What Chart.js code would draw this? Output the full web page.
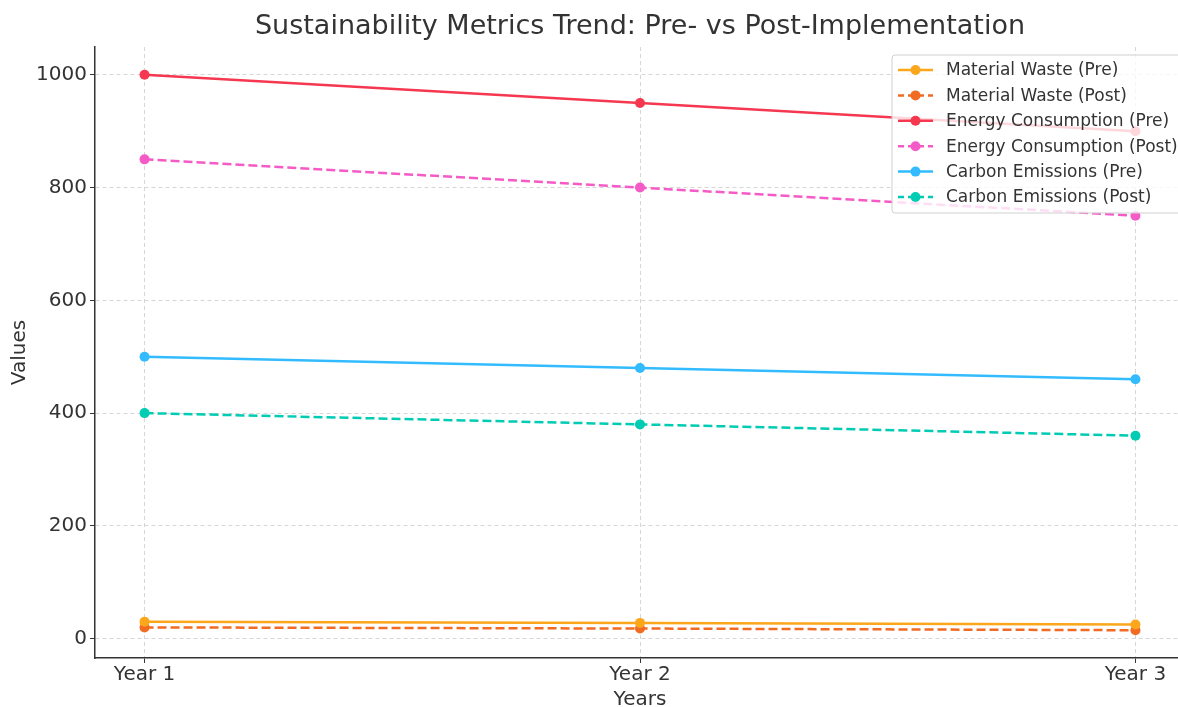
<!DOCTYPE html>
<html>
<head>
<meta charset="utf-8">
<script src="https://cdn.jsdelivr.net/npm/chart.js@4.4.0/dist/chart.umd.min.js"></script>
<style>
html,body{margin:0;padding:0;background:#fff;overflow:hidden;}
#wrap{width:1178px;height:707px;position:relative;overflow:hidden;}
#c{position:absolute;left:0;top:0;}
</style>
</head>
<body>
<div id="wrap"><canvas id="c" width="1190" height="707"></canvas></div>
<script>
const years = ['Year 1', 'Year 2', 'Year 3'];
const materialWastePre = [30, 28, 25];
const materialWastePost = [20, 18, 15];
const energyPre = [1000, 950, 900];
const energyPost = [850, 800, 750];
const carbonPre = [500, 480, 460];
const carbonPost = [400, 380, 360];
const yTicks = [0, 200, 400, 600, 800, 1000];

const DASH = [9, 4];
const seriesDefs = [
  {label: 'Material Waste (Pre)', data: materialWastePre, color: '#FBA61B', dash: []},
  {label: 'Material Waste (Post)', data: materialWastePost, color: '#F26B22', dash: DASH},
  {label: 'Energy Consumption (Pre)', data: energyPre, color: '#F5384F', dash: []},
  {label: 'Energy Consumption (Post)', data: energyPost, color: '#F55BC7', dash: DASH},
  {label: 'Carbon Emissions (Pre)', data: carbonPre, color: '#33BBFF', dash: []},
  {label: 'Carbon Emissions (Post)', data: carbonPost, color: '#00CCB4', dash: DASH}
];

const datasets = seriesDefs.map(s => ({
  label: s.label,
  data: s.data.map((v, i) => ({x: i, y: v})),
  borderColor: s.color,
  backgroundColor: s.color,
  borderWidth: 2.5,
  borderDash: s.dash,
  pointRadius: 5,
  pointHoverRadius: 5,
  pointBorderWidth: 0,
  tension: 0,
  fill: false
}));

const FONT = "'DejaVu Sans', sans-serif";

const legendPlugin = {
  id: 'insideLegend',
  afterDatasetsDraw(chart) {
    const ctx = chart.ctx;
    const x0 = 892, y0 = 55, w = 300, h = 158;
    ctx.save();
    ctx.beginPath();
    const r = 3;
    ctx.moveTo(x0 + r, y0);
    ctx.lineTo(x0 + w, y0);
    ctx.lineTo(x0 + w, y0 + h);
    ctx.lineTo(x0 + r, y0 + h);
    ctx.arcTo(x0, y0 + h, x0, y0 + h - r, r);
    ctx.lineTo(x0, y0 + r);
    ctx.arcTo(x0, y0, x0 + r, y0, r);
    ctx.closePath();
    ctx.fillStyle = 'rgba(255,255,255,0.8)';
    ctx.fill();
    ctx.strokeStyle = '#d0d0d0';
    ctx.lineWidth = 1;
    ctx.stroke();
    ctx.font = '17px ' + FONT;
    ctx.textBaseline = 'middle';
    ctx.textAlign = 'left';
    seriesDefs.forEach((s, i) => {
      const y = 70 + i * 25.4;
      ctx.strokeStyle = s.color;
      ctx.lineWidth = 2.5;
      ctx.setLineDash(s.dash.length ? [6, 4] : []);
      ctx.beginPath();
      ctx.moveTo(898, y);
      ctx.lineTo(933, y);
      ctx.stroke();
      ctx.setLineDash([]);
      ctx.fillStyle = s.color;
      ctx.beginPath();
      ctx.arc(915.5, y, 5, 0, Math.PI * 2);
      ctx.fill();
      ctx.fillStyle = '#333333';
      ctx.fillText(s.label, 946, y + 1);
    });
    ctx.restore();
  }
};

new Chart(document.getElementById('c'), {
  type: 'line',
  data: {datasets},
  plugins: [legendPlugin],
  options: {
    responsive: false,
    animation: false,
    layout: {padding: {left: 0, right: 0, top: 0, bottom: 0}},
    plugins: {
      legend: {display: false},
      tooltip: {enabled: false},
      title: {
        display: true,
        fullSize: false,
        text: 'Sustainability Metrics Trend: Pre- vs Post-Implementation',
        color: '#333333',
        font: {family: FONT, size: 27, weight: 'normal'},
        padding: {top: 11, bottom: 3.6}
      }
    },
    scales: {
      x: {
        type: 'linear',
        min: -0.1,
        max: 2.1,
        afterBuildTicks(scale) { scale.ticks = years.map((_, i) => ({value: i})); },
        afterFit(scale) { scale.height = 49; },
        ticks: {
          callback: (v) => years[v] ?? '',
          color: '#333333',
          font: {family: FONT, size: 20},
          padding: 0,
          maxRotation: 0,
          autoSkip: false
        },
        grid: {color: '#cccccc', lineWidth: 0.8, tickColor: '#333333', tickLength: 5, tickWidth: 1},
        border: {display: true, color: '#333333', width: 1.5, dash: [4, 3]},
        title: {display: true, text: 'Years', color: '#333333', font: {family: FONT, size: 20}, padding: {top: 0, bottom: -5}}
      },
      y: {
        type: 'linear',
        min: -34.25,
        max: 1049.25,
        afterBuildTicks(scale) { scale.ticks = yTicks.map(v => ({value: v})); },
        afterFit(scale) { scale.width = 95; },
        ticks: {
          callback: (v) => String(v),
          color: '#333333',
          font: {family: FONT, size: 20},
          padding: 3
        },
        grid: {color: '#cccccc', lineWidth: 0.8, tickColor: '#333333', tickLength: 5, tickWidth: 1},
        border: {display: true, color: '#333333', width: 1.5, dash: [4, 3]},
        title: {display: true, text: 'Values', color: '#333333', font: {family: FONT, size: 20}, padding: {top: 8, bottom: 0}}
      }
    }
  }
});
</script>
</body>
</html>
